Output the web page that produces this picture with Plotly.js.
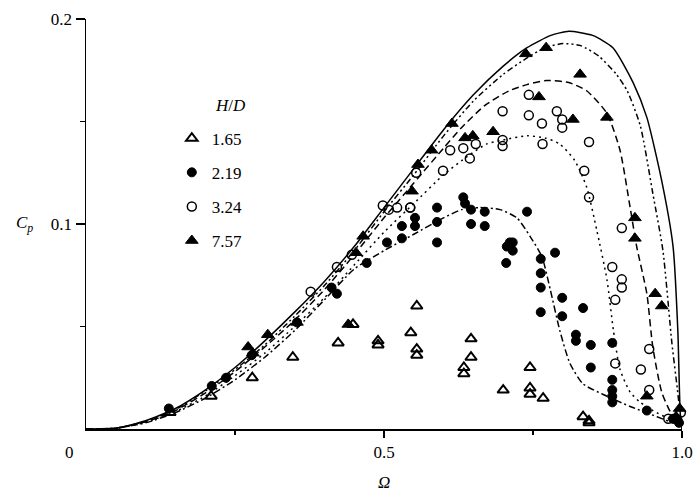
<!DOCTYPE html>
<html>
<head>
<meta charset="utf-8">
<script src="https://cdn.plot.ly/plotly-3.0.1.min.js"></script>
<style>html,body{margin:0;padding:0;background:#fff;}#chart{width:696px;height:491px;}</style>
</head>
<body>
<div id="chart"></div>
<script>
// ---- measured data: H/D = 1.65 (open triangles)
const hd165X = [0.141,0.210,0.279,0.347,0.423,0.448,0.490,0.490,0.545,0.555,0.555,0.555,0.634,0.634,0.646,0.646,0.700,0.745,0.745,0.745,0.767,0.834,0.844,0.844];
const hd165Y = [0.008,0.016,0.025,0.035,0.042,0.051,0.043,0.041,0.047,0.060,0.039,0.036,0.030,0.027,0.044,0.035,0.019,0.030,0.020,0.017,0.015,0.006,0.004,0.003];
// H/D = 2.19 (filled circles)
const hd219X = [0.139,0.211,0.235,0.278,0.354,0.412,0.421,0.471,0.505,0.530,0.530,0.552,0.552,0.589,0.589,0.589,0.633,0.636,0.646,0.669,0.646,0.669,0.740,0.711,0.706,0.716,0.716,0.705,0.787,0.763,0.763,0.763,0.799,0.834,0.763,0.799,0.822,0.822,0.847,0.883,0.847,0.883,0.883,0.883,0.883,0.941,0.985,0.995];
const hd219Y = [0.010,0.021,0.025,0.036,0.052,0.069,0.066,0.081,0.091,0.099,0.093,0.103,0.099,0.108,0.101,0.091,0.113,0.110,0.107,0.106,0.100,0.099,0.106,0.091,0.089,0.091,0.087,0.081,0.086,0.083,0.076,0.069,0.064,0.059,0.057,0.055,0.046,0.043,0.041,0.042,0.030,0.024,0.019,0.016,0.013,0.009,0.005,0.003];
// H/D = 3.24 (open circles)
const hd324X = [0.377,0.421,0.446,0.498,0.508,0.522,0.544,0.544,0.554,0.599,0.611,0.633,0.644,0.654,0.699,0.699,0.699,0.743,0.743,0.765,0.766,0.790,0.799,0.799,0.836,0.844,0.844,0.883,0.899,0.899,0.899,0.888,0.945,0.888,0.931,0.945,0.977,0.998];
const hd324Y = [0.067,0.079,0.085,0.109,0.107,0.108,0.108,0.108,0.125,0.126,0.136,0.137,0.132,0.139,0.155,0.141,0.138,0.163,0.153,0.149,0.139,0.155,0.151,0.147,0.126,0.140,0.113,0.079,0.098,0.073,0.069,0.063,0.039,0.032,0.029,0.019,0.005,0.008];
// H/D = 7.57 (filled triangles)
const hd757X = [0.272,0.280,0.305,0.354,0.440,0.453,0.465,0.547,0.557,0.580,0.614,0.636,0.649,0.683,0.738,0.760,0.772,0.817,0.829,0.874,0.921,0.921,0.955,0.966,0.941,0.990,0.996];
const hd757Y = [0.040,0.037,0.046,0.052,0.051,0.086,0.094,0.116,0.129,0.136,0.149,0.142,0.143,0.145,0.183,0.162,0.186,0.151,0.173,0.152,0.103,0.093,0.066,0.060,0.016,0.006,0.010];

// ---- model curves
const curveSolidX = [0,0.05,0.1,0.15,0.2,0.25,0.3,0.35,0.4,0.45,0.5,0.55,0.6,0.65,0.7,0.74,0.78,0.81,0.85,0.884,0.918,0.941,0.966,0.985,0.993,0.997,1.0];
const curveSolidY = [0,0.0004,0.004,0.010,0.019,0.030,0.043,0.057,0.072,0.089,0.108,0.127,0.146,0.163,0.177,0.186,0.192,0.194,0.192,0.186,0.169,0.152,0.121,0.089,0.048,0.008,0];
const curveDDotX = [0,0.05,0.1,0.15,0.2,0.25,0.3,0.35,0.4,0.45,0.5,0.55,0.6,0.65,0.7,0.74,0.77,0.80,0.83,0.86,0.89,0.908,0.93,0.951,0.968,0.983,0.992,0.997,1.0];
const curveDDotY = [0,0.0004,0.0037,0.0095,0.0185,0.029,0.041,0.055,0.070,0.087,0.106,0.124,0.143,0.160,0.173,0.181,0.186,0.188,0.187,0.182,0.173,0.165,0.148,0.115,0.087,0.042,0.020,0.007,0];
const curveDashX = [0,0.05,0.1,0.15,0.2,0.25,0.3,0.35,0.4,0.45,0.5,0.55,0.6,0.63,0.67,0.71,0.74,0.773,0.81,0.84,0.874,0.896,0.913,0.924,0.941,0.951,0.966,0.983,1.0];
const curveDashY = [0,0.0004,0.0035,0.009,0.0175,0.028,0.040,0.053,0.068,0.085,0.103,0.120,0.137,0.147,0.158,0.165,0.168,0.170,0.169,0.165,0.154,0.136,0.108,0.089,0.066,0.040,0.018,0.007,0.002];
const curveDotX = [0,0.05,0.1,0.15,0.2,0.25,0.3,0.35,0.4,0.45,0.5,0.55,0.6,0.64,0.672,0.70,0.74,0.77,0.795,0.82,0.84,0.857,0.874,0.885,0.896,0.913,0.93,0.951,0.985,1.0];
const curveDotY = [0,0.0004,0.0033,0.0085,0.016,0.026,0.037,0.050,0.064,0.080,0.096,0.110,0.124,0.133,0.139,0.141,0.143,0.142,0.139,0.131,0.118,0.097,0.073,0.048,0.029,0.018,0.013,0.009,0.004,0.002];
const curveDashDotX = [0,0.05,0.1,0.15,0.2,0.25,0.3,0.35,0.4,0.45,0.5,0.55,0.6,0.63,0.66,0.695,0.723,0.745,0.765,0.779,0.795,0.812,0.834,0.874,0.913,0.958,0.985,1.0];
const curveDashDotY = [0,0.0004,0.003,0.008,0.015,0.024,0.035,0.048,0.063,0.078,0.087,0.095,0.103,0.107,0.108,0.107,0.103,0.094,0.084,0.068,0.048,0.032,0.022,0.016,0.011,0.006,0.003,0.002];

const legendNames = ['1.65','2.19','3.24','7.57'];
const xTickVals = [0.5,1.0];
const xTickText = ['0.5','1.0'];
const yTickVals = [0.1,0.2];
const yTickText = ['0.1','0.2'];

const FONT = 'Liberation Serif, Times New Roman, serif';

function curve(x,y,dash){
  return {x:x,y:y,type:'scatter',mode:'lines',showlegend:false,cliponaxis:false,
    line:{color:'#000',width:1.5,dash:dash,shape:'spline',smoothing:0.6},hoverinfo:'skip'};
}
function pts(x,y,name,symbol,group,lw,sz){
  return {x:x,y:y,type:'scatter',mode:'markers',name:name,legendgroup:group,cliponaxis:false,
    marker:{symbol:symbol,size:sz,color:'#000',line:{color:'#000',width:lw}}};
}

const traces = [
  curve(curveSolidX,curveSolidY,'solid'),
  curve(curveDDotX,curveDDotY,'6px,3px,2px,3px,2px,3px'),
  curve(curveDashX,curveDashY,'7px,4px'),
  curve(curveDotX,curveDotY,'2px,4px'),
  curve(curveDashDotX,curveDashDotY,'7px,3px,2px,3px'),
  pts(hd165X,hd165Y,legendNames[0],'triangle-up-open','a',2,10),
  pts(hd219X,hd219Y,legendNames[1],'circle','b',1,9),
  pts(hd324X,hd324Y,legendNames[2],'circle-open','c',1.5,9),
  pts(hd757X,hd757Y,legendNames[3],'triangle-up','d',1,11)
];

const tickShape = (x0,y0,x1,y1,xr,yr,extra) => Object.assign({type:'line',xref:xr,yref:yr,x0:x0,y0:y0,x1:x1,y1:y1,line:{color:'#000',width:1.5}},extra);

const layout = {
  width:696,height:491,
  margin:{l:86,r:14,t:19,b:62},
  paper_bgcolor:'#fff',plot_bgcolor:'#fff',
  font:{family:FONT,size:16,color:'#000'},
  showlegend:true,
  legend:{x:0.144,y:0.752,xanchor:'left',yanchor:'top',tracegroupgap:9,
    font:{family:FONT,size:17,color:'#000'},bgcolor:'rgba(0,0,0,0)'},
  xaxis:{range:[0,1],showline:true,linecolor:'#000',linewidth:1.5,ticks:'outside',ticklen:7,tickwidth:1.5,tickcolor:'#000',
    tickvals:xTickVals,ticktext:xTickText,showgrid:false,zeroline:false,tickfont:{family:FONT,size:17},
    minor:{tickvals:[0.25,0.75],ticks:'outside',ticklen:4,tickwidth:1.5,tickcolor:'#000',showgrid:false}},
  yaxis:{range:[0,0.2],showline:true,linecolor:'#000',linewidth:1.5,ticks:'outside',ticklen:9,tickwidth:1.5,tickcolor:'#000',
    tickvals:yTickVals,ticktext:yTickText,showgrid:false,zeroline:false,tickfont:{family:FONT,size:17},
    minor:{tickvals:[0.05,0.15],ticks:'outside',ticklen:5,tickwidth:1.5,tickcolor:'#000',showgrid:false}},
  shapes:[
    tickShape(0,0,0,-8,'x','y',{ysizemode:'pixel',yanchor:0}),
    tickShape(0,0,-9,0,'x','y',{xsizemode:'pixel',xanchor:0})
  ],
  annotations:[
    {x:0,y:0,xref:'x',yref:'y',text:'0',showarrow:false,xshift:-17,yshift:-23,font:{family:FONT,size:17}},
    {x:0,y:0.1,xref:'x',yref:'y',text:'<i>C</i><sub><i>p</i></sub>',showarrow:false,xshift:-62,font:{family:FONT,size:17}},
    {x:0.5,y:0,xref:'x',yref:'y',text:'<i>Ω</i>',showarrow:false,yshift:-53,font:{family:FONT,size:17}},
    {x:0.243,y:0.158,xref:'x',yref:'y',text:'<i>H</i>/<i>D</i>',showarrow:false,font:{family:FONT,size:17}}
  ]
};

Plotly.newPlot('chart',traces,layout,{staticPlot:true,displayModeBar:false});
</script>
</body>
</html>
